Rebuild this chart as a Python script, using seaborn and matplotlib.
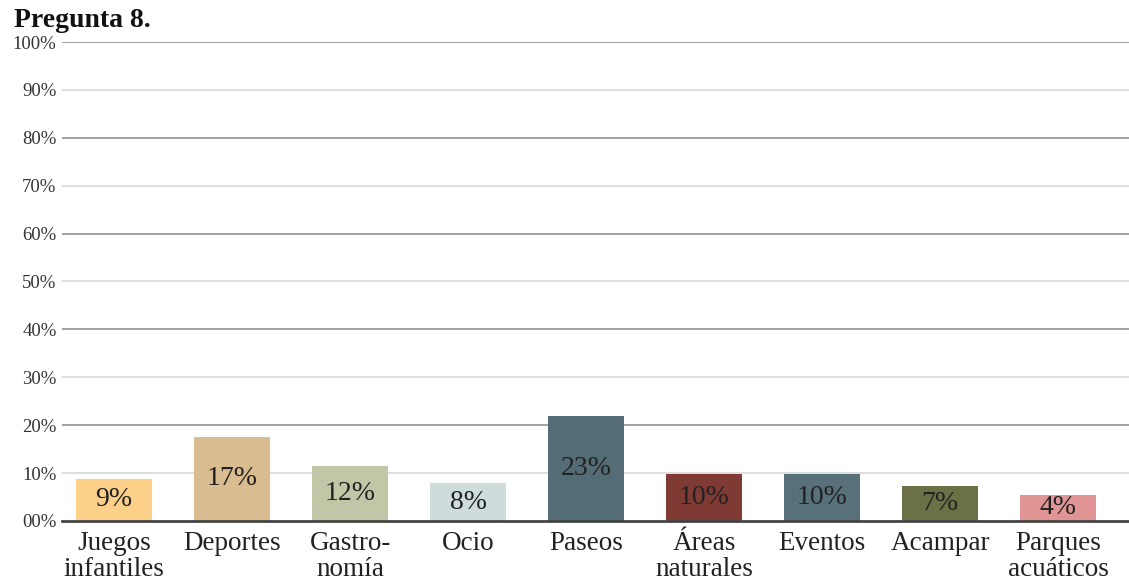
import matplotlib
matplotlib.use("Agg")
import matplotlib.pyplot as plt
import seaborn as sns
import pandas as pd

categories = ["Juegos\ninfantiles", "Deportes", "Gastro-\nnomía", "Ocio", "Paseos",
              "Áreas\nnaturales", "Eventos", "Acampar", "Parques\nacuáticos"]
heights = [8.8, 17.6, 11.4, 7.9, 22.0, 9.7, 9.7, 7.2, 5.4]
labels = ["9%", "17%", "12%", "8%", "23%", "10%", "10%", "7%", "4%"]
colors = ["#FCD088", "#D9BC8F", "#C0C6A6", "#CEDCDC", "#546C75",
          "#803A34", "#587079", "#6B7144", "#E09494"]
yticks = [0, 10, 20, 30, 40, 50, 60, 70, 80, 90, 100]
ytick_labels = ["00%", "10%", "20%", "30%", "40%", "50%", "60%", "70%", "80%", "90%", "100%"]

sns.set_style("white")
plt.rcParams["font.family"] = ["Liberation Serif", "DejaVu Serif"]

df = pd.DataFrame({"cat": categories, "val": heights})

fig = plt.figure(figsize=(11.29, 5.84), dpi=100)
ax = fig.add_axes([0.055, 0.108, 0.945, 0.82])

# grid lines: darker every 20%, light in between
for t in yticks[1:]:
    ax.axhline(t, color="#888888" if t % 20 == 0 else "#d4d4d4", lw=1.1, zorder=0)

sns.barplot(data=df, x="cat", y="val", hue="cat", palette=colors, legend=False,
            width=0.64, saturation=1, linewidth=0, ax=ax, zorder=2)

for i, (h, lab) in enumerate(zip(heights, labels)):
    ax.text(i, h / 2, lab, ha="center", va="center", fontsize=20, color="#222222", zorder=3)

ax.set_ylim(0, 100)
ax.set_xlim(-0.44, 8.6)
ax.set_yticks(yticks)
ax.set_yticklabels(ytick_labels, fontsize=13.5, color="#333333")
ax.tick_params(axis="x", labelsize=19.5, colors="#222222", length=0, pad=7)
ax.tick_params(axis="y", length=0, pad=4)
for lab in ax.get_xticklabels():
    lab.set_linespacing(1.08)
ax.set_xlabel("")
ax.set_ylabel("")
for s in ["top", "right", "left"]:
    ax.spines[s].set_visible(False)
ax.spines["bottom"].set_color("#444444")
ax.spines["bottom"].set_linewidth(2)
ax.spines["bottom"].set_zorder(4)

fig.text(0.012, 0.965, "Pregunta 8.", fontsize=20, fontweight="bold", ha="left", va="center",
         color="#111111")

fig.savefig("out.png", dpi=100)
